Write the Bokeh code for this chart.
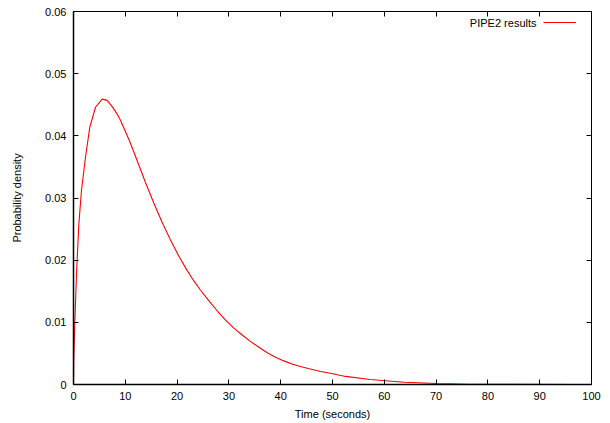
from bokeh.plotting import figure
from bokeh.models import (LinearAxis, FixedTicker, Range1d, Legend, LegendItem, Label)
from bokeh.embed import file_html
from bokeh.resources import INLINE

# ---- data ----
time_s = [0, 0.06, 0.25, 0.58, 1.03, 1.54, 2.32, 3.15, 4.25, 5.53, 6.5, 7.47, 8.43, 9.07,
          10.9, 12.3, 13.9, 15.5, 17.1, 18.7, 20.3, 21.9, 23.2, 24.5, 26.1, 27.7,
          29.3, 30.9, 32.5, 34.2, 35.8, 37.4, 39.0, 40.6, 42.2, 43.8, 45.7,
          47.7, 49.6, 52.5, 57.3, 63.8, 70.2, 76.6, 85.0, 97.0]
density = [0.0, 0.0044, 0.0098, 0.0178, 0.0258, 0.0312, 0.0366, 0.0414, 0.0446,
           0.0459, 0.0457, 0.0447, 0.0435, 0.0425, 0.0390, 0.0360, 0.0325, 0.0292,
           0.0261, 0.0233, 0.0207, 0.0184, 0.0167, 0.0152, 0.0135, 0.0119, 0.0104,
           0.0091, 0.0080, 0.0069, 0.0060, 0.0051, 0.0044, 0.0038, 0.0033, 0.0029,
           0.0025, 0.0021, 0.0018, 0.0013, 0.0008, 0.00037, 0.00016, 0.00005,
           0.00002, 0.0]
x_ticks = [0, 10, 20, 30, 40, 50, 60, 70, 80, 90, 100]
y_ticks = [0, 0.01, 0.02, 0.03, 0.04, 0.05, 0.06]
y_tick_labels = ["0", "0.01", "0.02", "0.03", "0.04", "0.05", "0.06"]
series_name = "PIPE2 results"

FONT = "Liberation Sans"
FS = "11px"

p = figure(width=602, height=422, output_backend="svg", toolbar_location=None,
           x_range=Range1d(0, 100), y_range=Range1d(0, 0.06),
           min_border_left=73, min_border_right=11, min_border_top=11, min_border_bottom=38)
p.grid.visible = False
p.outline_line_color = "black"
p.outline_line_width = 1
p.background_fill_color = "white"
p.border_fill_color = "white"

r = p.line(time_s, density, line_color="#ff0000", line_width=1.1)

def style(ax, labels=True):
    ax.major_tick_in = 5
    ax.major_tick_out = 0
    ax.minor_tick_in = 0
    ax.minor_tick_out = 0
    ax.major_tick_line_color = "black"
    ax.axis_line_color = "black"
    ax.major_label_text_font = FONT
    if labels:
        ax.major_label_text_font_size = FS
        ax.major_label_text_color = "black"
        ax.major_label_standoff = 7
    else:
        ax.major_label_text_font_size = "1px"
        ax.major_label_text_color = None
        ax.major_label_standoff = 0
    ax.axis_label_text_font = FONT
    ax.axis_label_text_font_size = FS
    ax.axis_label_text_font_style = "normal"
    ax.axis_label_text_color = "black"

xa = p.xaxis[0]
xa.ticker = FixedTicker(ticks=x_ticks)
xa.axis_label = "Time (seconds)"
style(xa)
xa.axis_label_standoff = 5
xa.axis_line_width = 1.5

ya = p.yaxis[0]
ya.ticker = FixedTicker(ticks=y_ticks)
ya.major_label_overrides = {t: l for t, l in zip(y_ticks, y_tick_labels)}
ya.axis_label = "Probability density"
style(ya)
ya.axis_label_standoff = 19
ya.axis_line_width = 1.5

top = LinearAxis(ticker=FixedTicker(ticks=x_ticks))
style(top, labels=False)
p.add_layout(top, "above")
right = LinearAxis(ticker=FixedTicker(ticks=y_ticks))
style(right, labels=False)
p.add_layout(right, "right")

legend = Legend(items=[LegendItem(label=" ", renderers=[r])], location=(470, 355),
                glyph_width=33, glyph_height=14, label_width=0, label_standoff=0,
                label_text_font_size="1px", label_text_color=None, padding=0,
                spacing=0, margin=0, border_line_color=None, background_fill_alpha=0)
p.add_layout(legend)
p.add_layout(Label(x=463, y=362, x_units="screen", y_units="screen", text=series_name,
                   text_align="right", text_baseline="middle", text_font=FONT,
                   text_font_size=FS, text_color="black"))

open("out.html", "w").write(file_html(p, INLINE))
